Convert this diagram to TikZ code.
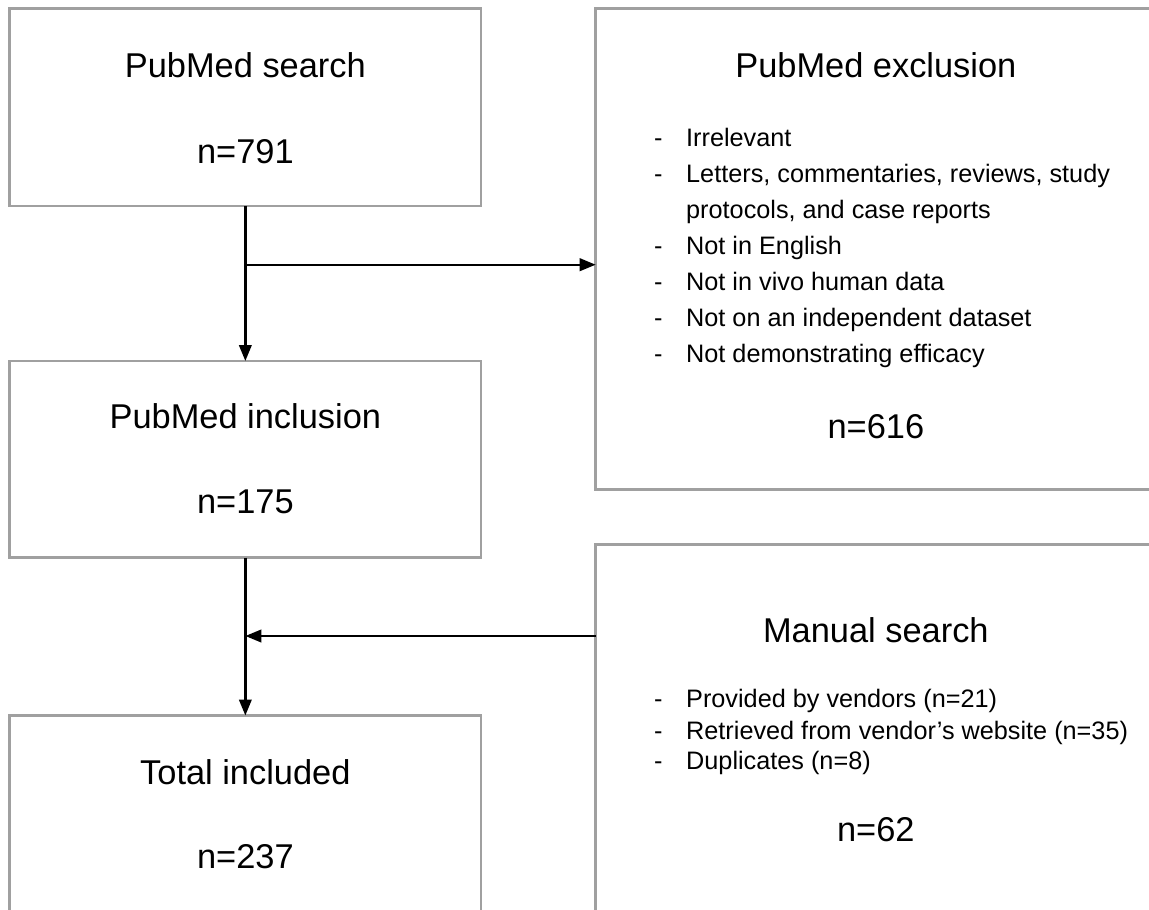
\documentclass[tikz,border=0pt]{standalone}
\usepackage{fontspec}
\setmainfont{Liberation Sans}
\usetikzlibrary{arrows.meta}
\definecolor{boxgray}{HTML}{A0A0A0}
\begin{document}
\begin{tikzpicture}[x=1pt,y=-1pt,
  box/.style={draw=boxgray,line width=2.7pt,inner sep=0pt,outer sep=0pt,rectangle},
  arr/.style={draw=black,line width=2.4pt,-{Triangle[length=16pt,width=12.5pt]}},
  ttl/.style={anchor=base,inner sep=0pt,font=\fontsize{34.4}{41}\selectfont},
  item/.style={anchor=base west,inner sep=0pt,font=\fontsize{25.25}{30}\selectfont}]
\useasboundingbox (0,0) rectangle (1149,910);
\clip (0,0) rectangle (1149,910);
% boxes
\node[box,minimum width=471.3pt,minimum height=197.3pt] (search) at (245.35,107.35) {};
\node[box,minimum width=471.3pt,minimum height=196.5pt] (incl) at (245.35,459.25) {};
\node[box,minimum width=471.3pt,minimum height=197pt] (total) at (245.35,814) {};
\node[box,minimum width=560.3pt,minimum height=481pt] (excl) at (875.85,249.2) {};
\node[box,minimum width=560.3pt,minimum height=455.3pt] (manual) at (875.85,772.35) {};
% titles
\node[ttl] (t1) at (245.35,77) {PubMed search};
\node[ttl] (n1) at (245.35,163) {n=791};
\node[ttl] (t2) at (245.35,428) {PubMed inclusion};
\node[ttl] (n2) at (245.35,513) {n=175};
\node[ttl] (t3) at (245.35,784) {Total included};
\node[ttl] (n3) at (245.35,868) {n=237};
\node[ttl] (t4) at (875.85,77.3) {PubMed exclusion};
\node[ttl] (n4) at (875.85,438) {n=616};
\node[ttl] (t5) at (875.85,642.7) {Manual search};
\node[ttl] (n5) at (875.85,841) {n=62};
% exclusion list
\foreach \y/\txt [count=\i] in {146/Irrelevant,182/{Letters, commentaries, reviews, study},254/Not in English,290/Not in vivo human data,326/Not on an independent dataset,362/Not demonstrating efficacy}{
  \node[item] (ed\i) at (654,\y) {-};
  \node[item] (et\i) at (686,\y) {\txt};
}
\node[item] (et7) at (686,218) {protocols, and case reports};
% manual list
\foreach \y/\txt [count=\i] in {707.5/{Provided by vendors (n=21)},739/{Retrieved from vendor’s website (n=35)},769.5/{Duplicates (n=8)}}{
  \node[item] (md\i) at (654,\y) {-};
  \node[item] (mt\i) at (686,\y) {\txt};
}
% connectors
\coordinate (j1) at (245.35,264.7);
\coordinate (j2) at (245.35,636);
\draw[arr] (search.south) -- (incl.north);
\draw[arr] (j1) -- (j1 -| excl.west);
\draw[arr] (incl.south) -- (total.north);
\draw[arr] (manual.west |- j2) -- (j2);
\end{tikzpicture}
\end{document}
